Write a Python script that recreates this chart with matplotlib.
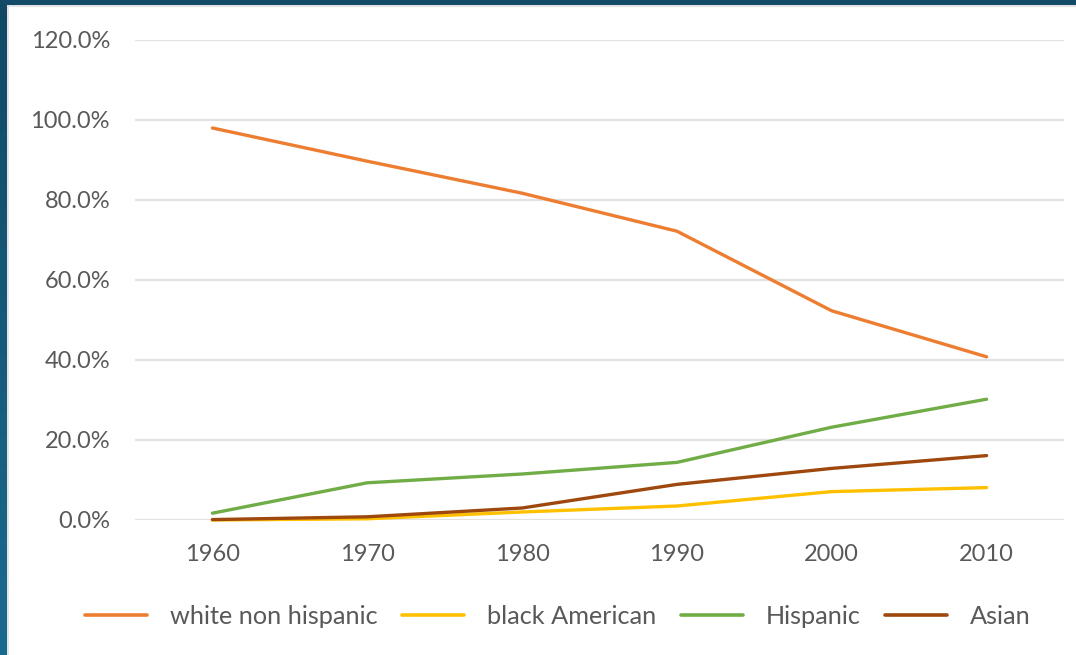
import matplotlib
matplotlib.use("Agg")
import matplotlib.pyplot as plt
import numpy as np
from matplotlib.patches import Rectangle
from matplotlib.colors import LinearSegmentedColormap

years = ["1960", "1970", "1980", "1990", "2000", "2010"]
white = [98.0, 89.7, 81.7, 72.2, 52.3, 40.8]
black = [0.0, 0.3, 2.0, 3.5, 7.1, 8.1]
hispanic = [1.7, 9.3, 11.5, 14.4, 23.2, 30.2]
asian = [0.1, 0.8, 3.0, 8.9, 12.9, 16.1]
yticks = [0, 20, 40, 60, 80, 100, 120]
series_names = ["white non hispanic", "black American", "Hispanic", "Asian"]
colors = ["#ED7D31", "#FFC000", "#70AD47", "#9E480E"]

plt.rcParams['font.family'] = ['Lato', 'DejaVu Sans']

W, H = 1076, 655
fig = plt.figure(figsize=(W / 100, H / 100), dpi=100)
fig.patch.set_facecolor("white")

# frame borders
grad_ax = fig.add_axes([0, 0, 7 / W, 1])
grad = np.linspace(0, 1, 256).reshape(-1, 1)
cm = LinearSegmentedColormap.from_list("b", ["#1B6B8E", "#124866"])
grad_ax.imshow(grad, aspect="auto", cmap=cm, origin="lower", extent=[0, 1, 0, 1])
grad_ax.axis("off")
fig.add_artist(Rectangle((0, 1 - 5 / H), 1, 5 / H, transform=fig.transFigure,
                         facecolor="#134A68", edgecolor="none", zorder=5))
fig.add_artist(Rectangle((7 / W, 0), 2 / W, 1 - 5 / H, transform=fig.transFigure,
                         facecolor="#E3E3E3", edgecolor="none", zorder=5))
fig.add_artist(Rectangle((7 / W, 1 - 7 / H), 1 - 7 / W, 2 / H, transform=fig.transFigure,
                         facecolor="#E3E3E3", edgecolor="none", zorder=5))

left, right = 135 / W, 1064 / W
top, bottom = 1 - 40 / H, 1 - 520 / H
ax = fig.add_axes([left, bottom, right - left, top - bottom])

x = np.arange(len(years))
data = [white, black, hispanic, asian]
for vals, name, c in zip(data, series_names, colors):
    ax.plot(x, vals, color=c, lw=2.4, label=name, solid_capstyle="round",
            solid_joinstyle="round", zorder=3, clip_on=False)

ax.set_xlim(-0.5, len(years) - 0.5)
ax.set_ylim(0, 120)
ax.set_yticks(yticks)
ax.set_yticklabels([f"{v:.1f}%" for v in yticks])
ax.set_xticks(x)
ax.set_xticklabels(years)
for s in ax.spines.values():
    s.set_visible(False)
ax.grid(axis="y", color="#E2E2E2", lw=1.6, zorder=0)
ax.tick_params(length=0, labelsize=17, colors="#595959")
ax.tick_params(axis="x", pad=17)
ax.tick_params(axis="y", pad=18)

leg = fig.legend(loc="center", bbox_to_anchor=(0.5185, 1 - 616 / H), ncol=4,
                 frameon=False, fontsize=18.2, handlelength=2.45, handletextpad=0.9,
                 columnspacing=0.98)
for t in leg.get_texts():
    t.set_color("#595959")
for l in leg.get_lines():
    l.set_linewidth(2.6)
    l.set_solid_capstyle("round")

fig.savefig("out.png", dpi=100)
